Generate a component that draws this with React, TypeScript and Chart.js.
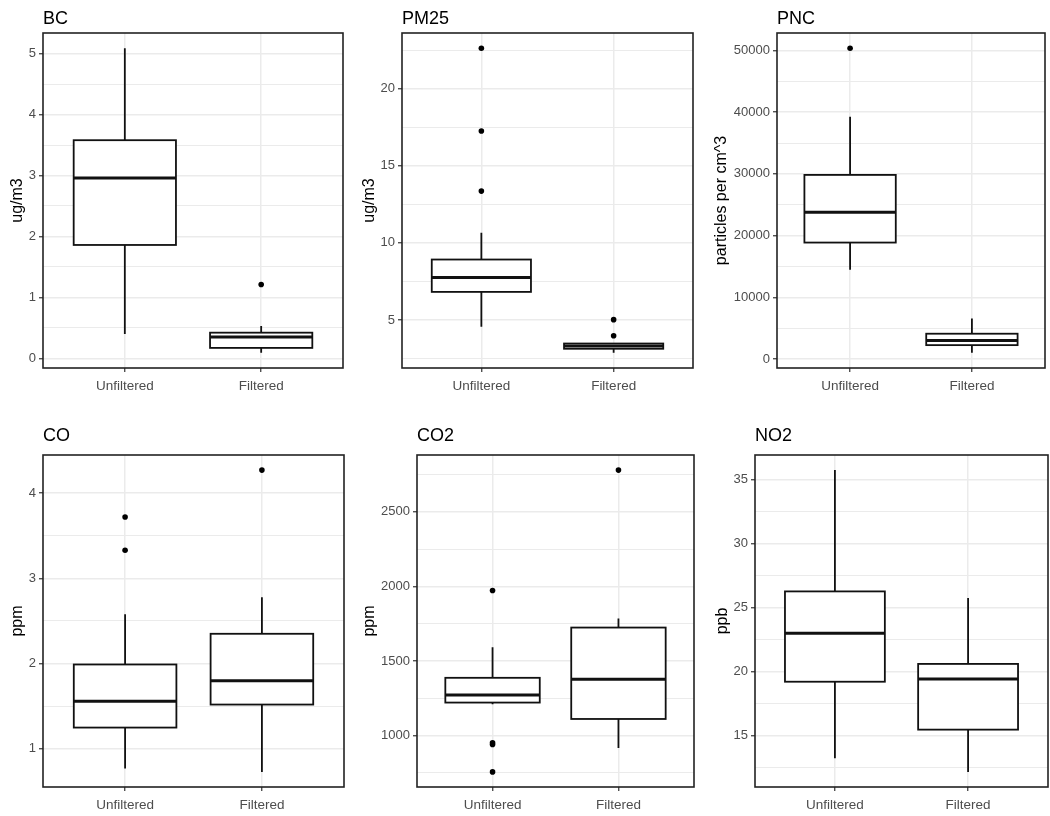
import React, { useEffect, useRef } from "react";
import { Chart, registerables } from "chart.js";

Chart.register(...registerables);

// ---------- data ----------
const categories = ["Unfiltered", "Filtered"];
// each box: [lower whisker, Q1, median, Q3, upper whisker]
const bcStats = [[0.40, 1.86, 2.96, 3.58, 5.09], [0.09, 0.17, 0.35, 0.42, 0.53]];
const bcOutliers = [[], [1.21]];
const bcTicks = [0, 1, 2, 3, 4, 5];

const pm25Stats = [[4.56, 6.82, 7.76, 8.92, 10.65], [2.87, 3.13, 3.31, 3.47, 3.47]];
const pm25Outliers = [[22.63, 17.26, 13.36], [5.02, 3.97]];
const pm25Ticks = [5, 10, 15, 20];

const pncStats = [[14450, 18870, 23780, 29840, 39280], [1000, 2240, 3000, 4090, 6550]];
const pncOutliers = [[50380], []];
const pncTicks = [0, 10000, 20000, 30000, 40000, 50000];

const coStats = [[0.77, 1.25, 1.56, 1.99, 2.58], [0.73, 1.52, 1.80, 2.35, 2.78]];
const coOutliers = [[3.72, 3.33], [4.27]];
const coTicks = [1, 2, 3, 4];

const co2Stats = [[1210, 1221, 1272, 1387, 1592], [916, 1111, 1377, 1724, 1784]];
const co2Outliers = [[1973, 952, 940, 756], [2780]];
const co2Ticks = [1000, 1500, 2000, 2500];

const no2Stats = [[13.24, 19.21, 23.0, 26.26, 35.73], [12.17, 15.47, 19.42, 20.6, 25.75]];
const no2Outliers = [[], []];
const no2Ticks = [15, 20, 25, 30, 35];

// ---------- layout (positions / styles) ----------
const FONT = "'Liberation Sans', Arial, sans-serif";
const BOX_HALF = 0.375;

type Panel = {
  title: string;
  yTitle: string;
  stats: number[][];
  outliers: number[][];
  ticks: number[];
  col: number;
  row: number;
  left: number;
  right: number;
  titleX: number;
};

const panels: Panel[] = [
  { title: "BC", yTitle: "ug/m3", stats: bcStats, outliers: bcOutliers, ticks: bcTicks, col: 0, row: 0, left: 43, right: 343, titleX: 18 },
  { title: "PM25", yTitle: "ug/m3", stats: pm25Stats, outliers: pm25Outliers, ticks: pm25Ticks, col: 1, row: 0, left: 52, right: 343, titleX: 20 },
  { title: "PNC", yTitle: "particles per cm^3", stats: pncStats, outliers: pncOutliers, ticks: pncTicks, col: 2, row: 0, left: 77, right: 345, titleX: 22 },
  { title: "CO", yTitle: "ppm", stats: coStats, outliers: coOutliers, ticks: coTicks, col: 0, row: 1, left: 43, right: 344, titleX: 18 },
  { title: "CO2", yTitle: "ppm", stats: co2Stats, outliers: co2Outliers, ticks: co2Ticks, col: 1, row: 1, left: 67, right: 344, titleX: 20 },
  { title: "NO2", yTitle: "ppb", stats: no2Stats, outliers: no2Outliers, ticks: no2Ticks, col: 2, row: 1, left: 55, right: 348, titleX: 23 },
];

const rows = [
  { top: 0, height: 400, plotTop: 33, plotBottom: 368, titleY: 19 },
  { top: 400, height: 416, plotTop: 55, plotBottom: 387, titleY: 36 },
];

function makePlugin(p: Panel, titleY: number) {
  return {
    id: "boxplot",
    beforeDatasetsDraw(chart: any) {
      const { ctx, scales } = chart;
      const x = scales.x;
      const y = scales.y;
      ctx.save();
      ctx.strokeStyle = "#111";
      ctx.lineCap = "butt";
      p.stats.forEach((s, i) => {
        const [lo, q1, med, q3, hi] = s;
        const cx = x.getPixelForValue(i + 1);
        const xl = x.getPixelForValue(i + 1 - BOX_HALF);
        const xr = x.getPixelForValue(i + 1 + BOX_HALF);
        const yLo = y.getPixelForValue(lo);
        const yQ1 = y.getPixelForValue(q1);
        const yMed = y.getPixelForValue(med);
        const yQ3 = y.getPixelForValue(q3);
        const yHi = y.getPixelForValue(hi);
        ctx.lineWidth = 1.8;
        ctx.beginPath();
        ctx.moveTo(cx, yQ3);
        ctx.lineTo(cx, yHi);
        ctx.moveTo(cx, yQ1);
        ctx.lineTo(cx, yLo);
        ctx.stroke();
        ctx.fillStyle = "#fff";
        ctx.fillRect(xl, yQ3, xr - xl, yQ1 - yQ3);
        ctx.strokeRect(xl, yQ3, xr - xl, yQ1 - yQ3);
        ctx.lineWidth = 3;
        ctx.beginPath();
        ctx.moveTo(xl, yMed);
        ctx.lineTo(xr, yMed);
        ctx.stroke();
      });
      ctx.restore();
    },
    afterDraw(chart: any) {
      const { ctx, chartArea } = chart;
      ctx.save();
      ctx.strokeStyle = "#222";
      ctx.lineWidth = 1.6;
      ctx.strokeRect(chartArea.left, chartArea.top, chartArea.right - chartArea.left, chartArea.bottom - chartArea.top);
      ctx.fillStyle = "#000";
      ctx.font = `18px ${FONT}`;
      ctx.textAlign = "left";
      ctx.textBaseline = "middle";
      ctx.fillText(p.title, chartArea.left, titleY);
      ctx.restore();
    },
  };
}

function PanelChart({ p }: { p: Panel }) {
  const ref = useRef<HTMLCanvasElement>(null);
  const r = rows[p.row];
  const W = 350;
  const H = r.height;
  useEffect(() => {
    const all: number[] = [];
    p.stats.forEach((s) => all.push(...s));
    p.outliers.forEach((o) => all.push(...o));
    const dmin = Math.min(...all);
    const dmax = Math.max(...all);
    const pad = (dmax - dmin) * 0.05;
    const ymin = dmin - pad;
    const ymax = dmax + pad;
    const step = p.ticks[1] - p.ticks[0];
    const tickObjs: any[] = [];
    const first = p.ticks[0] - step / 2;
    for (let v = first; v <= p.ticks[p.ticks.length - 1] + step / 2 + 1e-9; v += step / 2) {
      const isMajor = p.ticks.some((t) => Math.abs(t - v) < step * 1e-6);
      if (v >= ymin && v <= ymax) tickObjs.push({ value: v, minor: !isMajor });
    }
    const points: { x: number; y: number }[] = [];
    p.outliers.forEach((o, i) => o.forEach((v) => points.push({ x: i + 1, y: v })));

    const chart = new Chart(ref.current!, {
      type: "scatter",
      data: {
        datasets: [
          {
            data: points,
            pointRadius: 2.8,
            pointHoverRadius: 2.8,
            backgroundColor: "#000",
            borderColor: "#000",
            borderWidth: 0,
          },
        ],
      },
      options: {
        animation: false,
        responsive: false,
        maintainAspectRatio: false,
        devicePixelRatio: 1,
        events: [],
        layout: { padding: { left: 0, top: r.plotTop, right: W - p.right, bottom: 0 } },
        plugins: { legend: { display: false }, tooltip: { enabled: false }, title: { display: false } },
        scales: {
          x: {
            type: "linear",
            min: 0.4,
            max: 2.6,
            afterBuildTicks: (s: any) => {
              s.ticks = categories.map((_, i) => ({ value: i + 1 }));
            },
            afterFit: (s: any) => {
              s.height = H - r.plotBottom;
            },
            ticks: {
              callback: (v: any) => categories[Math.round(Number(v)) - 1] ?? "",
              color: "#4d4d4d",
              font: { family: FONT, size: 13.5 },
              padding: 6,
              maxRotation: 0,
              autoSkip: false,
            },
            grid: {
              color: "#ebebeb",
              lineWidth: 1.5,
              drawTicks: true,
              tickLength: 4,
              tickColor: "#333",
              tickWidth: 1.2,
            },
            border: { display: false },
          },
          y: {
            type: "linear",
            min: ymin,
            max: ymax,
            afterBuildTicks: (s: any) => {
              s.ticks = tickObjs.map((t) => ({ ...t }));
            },
            afterFit: (s: any) => {
              s.width = p.left;
            },
            ticks: {
              callback: (v: any, i: number, ts: any[]) => (ts[i] && ts[i].minor ? "" : String(Math.round(Number(v) * 1000) / 1000)),
              color: "#4d4d4d",
              font: { family: FONT, size: 13 },
              padding: 3,
              autoSkip: false,
            },
            grid: {
              color: "#ebebeb",
              lineWidth: (c: any) => (c.tick && c.tick.minor ? 1 : 1.5),
              drawTicks: true,
              tickLength: 4,
              tickColor: (c: any) => (c.tick && c.tick.minor ? "rgba(0,0,0,0)" : "#333"),
              tickWidth: 1.2,
            },
            border: { display: false },
            title: {
              display: true,
              text: p.yTitle,
              color: "#000",
              font: { family: FONT, size: 16 },
              padding: { top: p.titleX - 9.6, bottom: 0 },
            },
          },
        },
      },
      plugins: [makePlugin(p, r.titleY)],
    } as any);
    return () => chart.destroy();
  }, []);
  return (
    <canvas
      ref={ref}
      width={W}
      height={H}
      style={{ position: "absolute", left: p.col * 350, top: r.top, width: W, height: H }}
    />
  );
}

export default function App() {
  return (
    <div style={{ position: "absolute", left: 0, top: 0, width: 1050, height: 816, background: "#fff" }}>
      {panels.map((p) => (
        <PanelChart key={p.title} p={p} />
      ))}
    </div>
  );
}
